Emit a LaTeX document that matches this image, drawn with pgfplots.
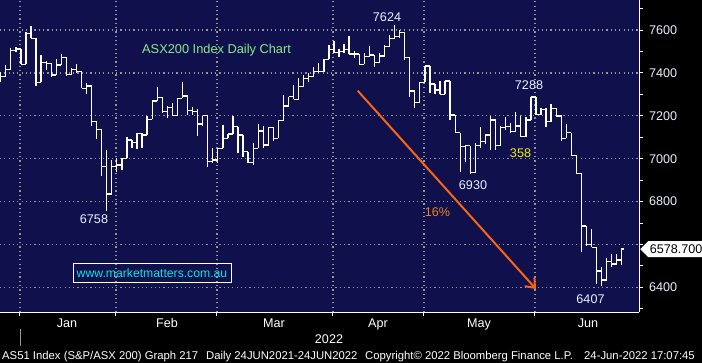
\documentclass[border=0pt]{standalone}
\usepackage{fontspec}
\setmainfont{Liberation Sans}
\usepackage{pgfplots}
\pgfplotsset{compat=1.18}
\usepackage{pgfplotstable}
\usetikzlibrary{shapes.symbols, arrows.meta}

\definecolor{navy}{RGB}{16,16,76}
\definecolor{gridgray}{RGB}{150,150,150}
\definecolor{ttlgreen}{RGB}{140,235,140}
\definecolor{lblwhite}{RGB}{232,240,255}
\definecolor{arrorange}{RGB}{250,100,20}
\definecolor{pctorange}{RGB}{240,130,30}
\definecolor{wwwcyan}{RGB}{0,230,230}
\definecolor{yel}{RGB}{240,240,0}

\newcommand{\fs}[1]{\fontsize{#1}{#1}\selectfont}

\pgfplotstableread{
k o h l c
0 7380 7402 7360 7382
1 7382 7437 7380 7417
2 7417 7515 7417 7504
3 7504 7519 7499 7511
4 7511 7511 7440 7440
5 7440 7592 7440 7584
6 7584 7619 7561 7561
7 7561 7561 7341 7356
8 7356 7484 7356 7449
9 7449 7455 7414 7444
10 7444 7448 7379 7390
11 7390 7463 7390 7437
12 7437 7488 7437 7473
13 7473 7473 7387 7393
14 7393 7424 7390 7417
15 7417 7442 7398 7406
16 7406 7406 7328 7328
17 7328 7351 7302 7339
18 7339 7339 7154 7173
19 7173 7173 7090 7137
20 7137 7137 6921 6963
21 6963 7041 6758 6835
22 6835 6994 6835 6963
23 6963 7002 6940 6971
24 6971 7002 6947 7002
25 7002 7103 7002 7087
26 7087 7087 7048 7075
27 7075 7118 7044 7118
28 7118 7118 7048 7110
29 7110 7199 7110 7184
30 7184 7274 7184 7269
31 7269 7333 7269 7286
32 7286 7289 7215 7219
33 7219 7246 7188 7240
34 7240 7258 7201 7201
35 7201 7281 7201 7281
36 7281 7356 7281 7292
37 7292 7292 7204 7224
38 7224 7240 7204 7219
39 7219 7230 7106 7162
40 7162 7201 7152 7201
41 7201 7201 6963 6986
42 6986 7048 6978 6994
43 6994 7048 6981 7048
44 7048 7156 7048 7095
45 7095 7115 7095 7115
46 7115 7199 7115 7149
47 7149 7149 7028 7110
48 7110 7110 7009 7033
49 7033 7033 6981 6981
50 6981 7075 6971 7048
51 7048 7162 7048 7129
52 7129 7152 7048 7064
53 7064 7146 7059 7146
54 7146 7146 7083 7095
55 7095 7177 7095 7177
56 7177 7297 7177 7246
57 7246 7289 7246 7289
58 7289 7344 7277 7277
59 7277 7375 7277 7336
60 7336 7390 7336 7375
61 7375 7398 7356 7382
62 7382 7429 7382 7406
63 7406 7448 7401 7406
64 7406 7463 7406 7463
65 7463 7530 7463 7510
66 7510 7550 7494 7494
67 7494 7510 7476 7499
68 7499 7535 7494 7510
69 7510 7572 7488 7488
70 7488 7500 7470 7488
71 7488 7488 7440 7440
72 7440 7491 7440 7476
73 7476 7525 7476 7483
74 7483 7483 7429 7448
75 7448 7491 7448 7479
76 7479 7530 7476 7522
77 7522 7577 7522 7561
78 7561 7624 7561 7569
79 7569 7600 7561 7588
80 7588 7588 7460 7473
81 7473 7473 7289 7316
82 7316 7316 7235 7261
83 7261 7359 7258 7356
84 7356 7432 7356 7432
85 7432 7432 7305 7348
86 7348 7348 7300 7320
87 7320 7364 7300 7300
88 7300 7364 7300 7362
89 7362 7362 7180 7204
90 7204 7204 7121 7121
91 7121 7121 6940 7056
92 7056 7064 6986 7061
93 7061 7061 6930 6935
94 6935 7072 6935 7060
95 7060 7146 7048 7080
96 7080 7111 7069 7110
97 7110 7199 7041 7180
98 7180 7180 7041 7061
99 7061 7152 7061 7145
100 7145 7196 7134 7149
101 7149 7168 7118 7126
102 7126 7219 7126 7152
103 7152 7199 7103 7103
104 7103 7196 7103 7180
105 7180 7288 7180 7288
106 7288 7288 7204 7207
107 7207 7235 7204 7230
108 7230 7235 7149 7173
109 7173 7255 7173 7235
110 7235 7235 7196 7199
111 7199 7204 7084 7095
112 7095 7162 7095 7121
113 7121 7121 7014 7014
114 7014 7017 6929 6932
115 6932 6932 6567 6686
116 6686 6686 6595 6601
117 6601 6671 6587 6587
118 6587 6587 6416 6476
119 6476 6494 6407 6435
120 6435 6539 6435 6520
121 6520 6556 6494 6509
122 6509 6556 6504 6528
123 6528 6582 6504 6578.7
}\ohlc

\begin{document}
\begin{tikzpicture}
\useasboundingbox (0,-51bp) rectangle (702bp,312bp);
\fill[black] (0,-51bp) rectangle (702bp,312bp);
\begin{axis}[
  at={(0,0)}, anchor=south west,
  scale only axis, width=639bp, height=312bp,
  xmin=-0.139, xmax=126.4, ymin=6285.3, ymax=7739.9,
  axis background/.style={fill=navy},
  axis x line*=bottom, axis y line*=right,
  axis line style={white, line width=1bp},
  clip=false,
  xtick={3.82,22.83,42.83,65.8,83.82,105.8},
  xticklabels={},
  ytick={6400,6600,6800,7000,7200,7400,7600},
  yticklabels={6400,,6800,7000,7200,7400,7600},
  minor ytick={6300,6500,6700,6900,7100,7300,7500,7700},
  tick align=outside,
  major tick length=4bp, minor tick length=3.5bp,
  tick style={white, line width=1bp},
  xmajorgrids, ymajorgrids,
  grid style={gridgray, line width=1.2bp, dash pattern=on 1.2bp off 3.1bp},
  yticklabel pos=right,
  yticklabel style={text=lblwhite, font=\fs{12.6bp}, anchor=west, xshift=2.5bp},
  /pgf/number format/1000 sep={},
  /pgf/number format/assume math mode=true,
]
% high-low
\addplot[draw=none, error bars/.cd, y dir=both, y explicit, error mark=none,
  error bar style={draw=white, solid, line width=1.3bp}]
  table[x=k, y=c, y error plus expr=\thisrow{h}-\thisrow{c}, y error minus expr=\thisrow{c}-\thisrow{l}] {\ohlc};
% open ticks
\addplot[draw=none, error bars/.cd, x dir=both, x fixed=0.25, error mark=none,
  error bar style={draw=white, solid, line width=1.3bp}]
  table[x expr=\thisrow{k}-0.25, y=o] {\ohlc};
% close ticks
\addplot[draw=none, error bars/.cd, x dir=both, x fixed=0.25, error mark=none,
  error bar style={draw=white, solid, line width=1.3bp}]
  table[x expr=\thisrow{k}+0.25, y=c] {\ohlc};
\pgfplotsinvokeforeach{6400,6800,7000,7200,7400,7600}{
  \fill[white] (axis cs:126.4,#1) ++(0,2.8bp) -- ++(7bp,-2.8bp) -- ++(-7bp,-2.8bp) -- cycle;
}
\end{axis}

% annotations
\node[anchor=west, inner sep=0, text=ttlgreen, font=\fs{12.8bp}] at (142bp,262.3bp) {ASX200 Index Daily Chart};
\node[inner sep=0, text=lblwhite, font=\fs{12.6bp}] at (387bp,294.8bp) {7624};
\node[inner sep=0, text=lblwhite, font=\fs{12.6bp}] at (529bp,227bp) {7288};
\node[inner sep=0, text=yel, font=\fs{12.6bp}] at (520.5bp,158.7bp) {358};
\node[inner sep=0, text=lblwhite, font=\fs{12.6bp}] at (473bp,127.3bp) {6930};
\node[inner sep=0, text=lblwhite, font=\fs{12.6bp}] at (94bp,92.8bp) {6758};
\node[inner sep=0, text=lblwhite, font=\fs{12.6bp}] at (590.5bp,13.3bp) {6407};
\node[inner sep=0, text=pctorange, font=\fs{12.6bp}] at (437.5bp,99.8bp) {16\%};
\draw[arrorange, line width=2bp, -{Straight Barb[length=8bp, width=13bp]}] (357.7bp,221.3bp) -- (536bp,23bp);
\node[draw=white, line width=1bp, text=wwwcyan, font=\fs{12.2bp}, minimum width=158bp, minimum height=19bp, inner sep=0] at (152bp,38.5bp) {www.marketmatters.com.au};
\node[signal, signal to=west, fill=white, text=black, inner sep=1.5bp, anchor=west, font=\fs{12.6bp}, minimum height=16bp] at (640bp,62.9bp) {6578.700};

% month labels
\foreach \m/\x in {Jan/67, Feb/167, Mar/274, Apr/378, May/479, Jun/588}
  \node[anchor=base, inner sep=0, text=white, font=\fs{12.6bp}] at (\x bp,-15.7bp) {\m};
\node[anchor=base, inner sep=0, text=white, font=\fs{12.6bp}] at (329bp,-31.3bp) {2022};
\draw[gridgray, line width=1bp] (20bp,-17bp) -- (20bp,-34bp);

% footer
\node[anchor=base west, inner sep=0, text=white, font=\fs{11.3bp}] at (2bp,-47.3bp) {AS51 Index (S\&P/ASX 200) Graph 217};
\node[anchor=base west, inner sep=0, text=white, font=\fs{11.3bp}] at (206bp,-47.3bp) {Daily 24JUN2021-24JUN2022};
\node[anchor=base west, inner sep=0, text=white, font=\fs{11.3bp}] at (365bp,-47.3bp) {Copyright© 2022 Bloomberg Finance L.P.};
\node[anchor=base west, inner sep=0, text=white, font=\fs{11.3bp}] at (584bp,-47.3bp) {24-Jun-2022 17:07:45};
\end{tikzpicture}
\end{document}
